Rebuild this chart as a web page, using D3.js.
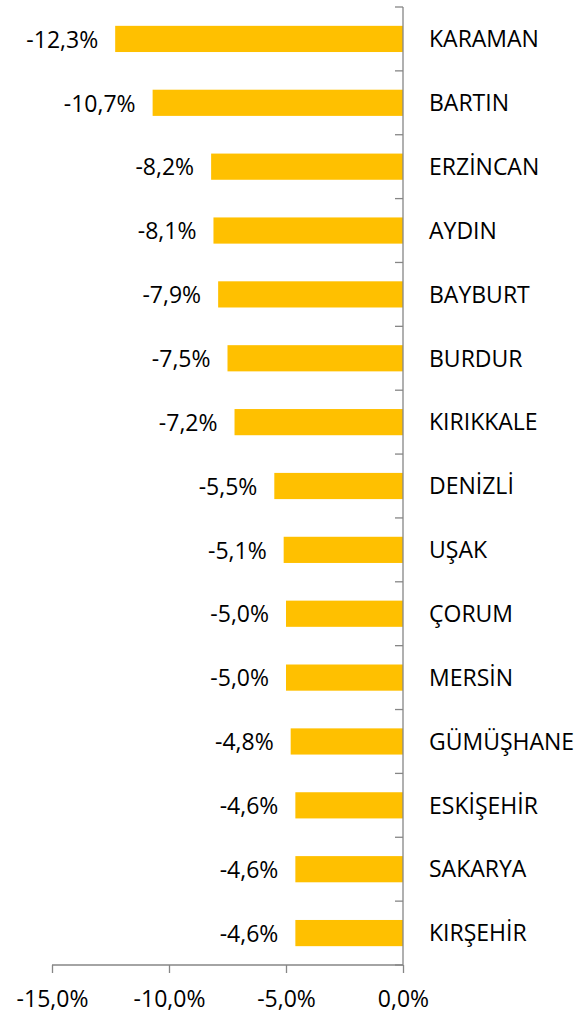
<!DOCTYPE html>
<html><head><meta charset="utf-8">
<script src="https://cdn.jsdelivr.net/npm/d3@7"></script>
<style>
html,body{margin:0;padding:0;background:#fff;}
svg text{font-family:"Open Sans",sans-serif;fill:#000;}
</style></head>
<body>
<svg id="chart" width="587" height="1015"></svg>
<script>
const categories = ["KARAMAN","BARTIN","ERZİNCAN","AYDIN","BAYBURT","BURDUR","KIRIKKALE","DENİZLİ","UŞAK","ÇORUM","MERSİN","GÜMÜŞHANE","ESKİŞEHİR","SAKARYA","KIRŞEHİR"];
const values = [-12.3,-10.7,-8.2,-8.1,-7.9,-7.5,-7.2,-5.5,-5.1,-5.0,-5.0,-4.8,-4.6,-4.6,-4.6];
const xTicks = [-15,-10,-5,0];

const fmt = v => d3.format(".1f")(v).replace("−","-").replace(".",",") + "%";
const svg = d3.select("#chart");
const top0 = 7, bot0 = 965;
const x = d3.scaleLinear().domain([-15,0]).range([52,403]);
const y = d3.scaleBand().domain(categories).range([top0,bot0]).paddingInner(0.59).paddingOuter(0.295);
const grey = "#868686";
const fs = "23px";

// bars
svg.selectAll("rect.bar").data(categories).enter().append("rect")
  .attr("x", (c,i)=>x(values[i]))
  .attr("y", c=>y(c))
  .attr("width", (c,i)=>x(0)-x(values[i]))
  .attr("height", y.bandwidth())
  .attr("fill","#FFC000");

// value labels
svg.selectAll("text.val").data(categories).enter().append("text")
  .attr("x",(c,i)=>x(values[i]) - 17)
  .attr("y", c=>y(c)+y.bandwidth()/2)
  .attr("dy","0.38em")
  .attr("text-anchor","end")
  .attr("font-size",fs)
  .text((c,i)=>fmt(values[i]));

// y axis line at x=0 with boundary ticks
svg.append("line").attr("x1",x(0)).attr("x2",x(0)).attr("y1",top0).attr("y2",bot0).attr("stroke",grey).attr("stroke-width",1.3);
const bounds = d3.range(categories.length+1).map(i=>top0 + i*((bot0-top0)/categories.length));
svg.selectAll("line.yt").data(bounds).enter().append("line")
  .attr("x1",x(0)-8).attr("x2",x(0)).attr("y1",d=>d).attr("y2",d=>d)
  .attr("stroke",grey).attr("stroke-width",1.3);

// category labels
svg.selectAll("text.cat").data(categories).enter().append("text")
  .attr("x", x(0)+26)
  .attr("y", c=>y(c)+y.bandwidth()/2)
  .attr("dy","0.36em")
  .attr("font-size",fs)
  .text(c=>c);

// x axis
const xAxis = d3.axisBottom(x).tickValues(xTicks).tickSize(8).tickPadding(18).tickFormat(fmt);
const gx = svg.append("g").attr("transform",`translate(0,${bot0})`).call(xAxis);
gx.select(".domain").attr("stroke",grey).attr("stroke-width",1.3).attr("d",`M${x(-15)},0H${x(0)}`);
gx.selectAll(".tick line").attr("stroke",grey).attr("stroke-width",1.3);
gx.selectAll(".tick text").attr("font-size",fs).attr("font-family","Open Sans").attr("fill","#000");
</script>
</body></html>
